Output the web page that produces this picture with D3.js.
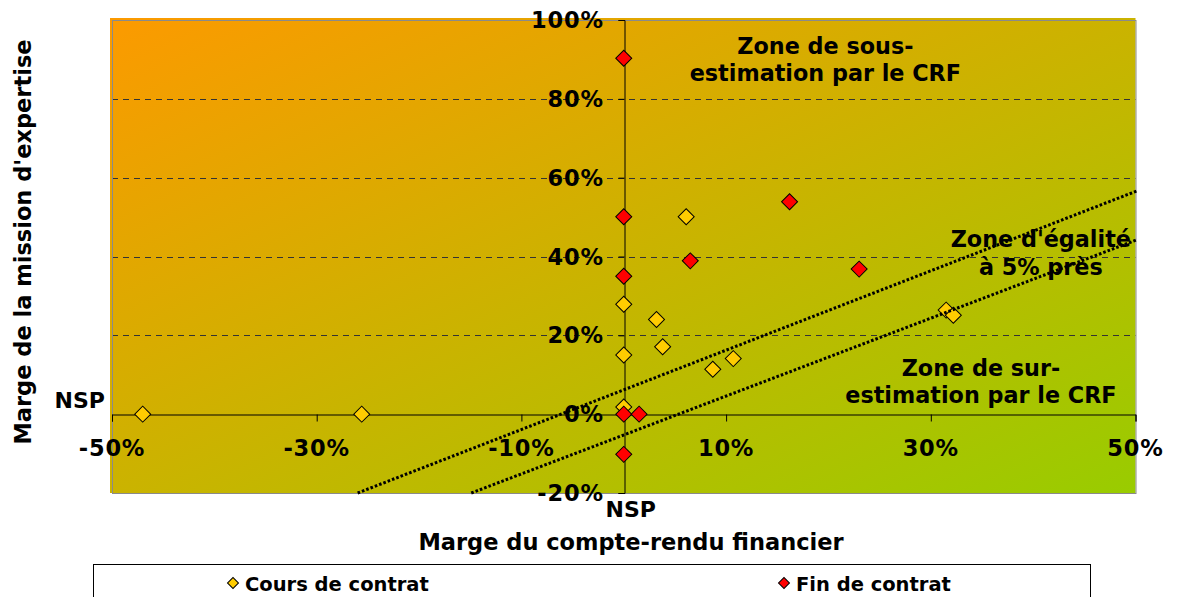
<!DOCTYPE html>
<html>
<head>
<meta charset="utf-8">
<script src="https://cdn.jsdelivr.net/npm/d3@7"></script>
<style>
  html, body { margin: 0; padding: 0; background: #fff; }
  svg { display: block; }
  text { font-family: "DejaVu Sans", Verdana, sans-serif; font-weight: bold; fill: #000; }
</style>
</head>
<body>
<svg id="chart" width="1178" height="597"></svg>
<script>
// Margins (%) — null means "NSP" (no answer), placed on the zero line.
const coursCRF     = [-47.0, -25.6, null, null, null, 3.2, 3.8, 8.7, 10.7, 6.1, 31.5, 32.2];
const coursMission = [null, null, 27.9, 15.0, 1.8, 24.0, 17.1, 11.4, 14.1, 50.1, 26.4, 25.1];

const finCRF     = [null, null, null, null, 1.5, null, 6.5, 16.2, 23.0];
const finMission = [90.3, 50.1, 35.0, null, null, -10.2, 38.9, 53.9, 36.8];

// Bounds of the "equal within 5%" band: [crf, mission] end points
const bandUpper = [[-26.0, -20], [50.1, 56.6]];
const bandLower = [[-14.9, -20], [50.1, 44.2]];

const xTicks = [-50, -30, -10, 10, 30, 50];
const yTicks = [-20, 0, 20, 40, 60, 80, 100];
const gridValues = [20, 40, 60, 80, 100];

const seriesNames = ["Cours de contrat", "Fin de contrat"];
const seriesColors = ["#FFCC00", "#FF0000"];

const zoneLabels = [
  { lines: ["Zone de sous-", "estimation par le CRF"], x: 19.7, y: 91.5 },
  { lines: ["Zone d'égalité", "à 5% près"], x: 40.75, y: 42.4 },
  { lines: ["Zone de sur-", "estimation par le CRF"], x: 34.9, y: 9.7 }
];

const svg = d3.select("#chart");

const x = d3.scaleLinear().domain([-50, 50]).range([112, 1135.5]);
const y = d3.scaleLinear().domain([-20, 100]).range([493, 20]);
const pos = v => (v == null ? 0 : v);

// Background gradient (orange -> lime, diagonal)
const defs = svg.append("defs");
const grad = defs.append("linearGradient")
  .attr("id", "bg").attr("x1", 0).attr("y1", 0).attr("x2", 1).attr("y2", 1);
grad.append("stop").attr("offset", "0%").attr("stop-color", "#FC9A00");
grad.append("stop").attr("offset", "100%").attr("stop-color", "#99CC00");

svg.append("rect")
  .attr("x", x(-50) - 2).attr("y", y(100) - 2)
  .attr("width", x(50) - x(-50) + 2).attr("height", y(-20) - y(100) + 2)
  .attr("fill", "url(#bg)");

// Dashed horizontal grid
svg.append("g").selectAll("line").data(gridValues).join("line")
  .attr("x1", x(-50)).attr("x2", x(50))
  .attr("y1", d => Math.round(y(d)) + 0.5).attr("y2", d => Math.round(y(d)) + 0.5)
  .attr("stroke", "#333").attr("stroke-width", 1)
  .attr("stroke-dasharray", "6,5");

// Plot frame
svg.append("rect")
  .attr("x", x(-50) + 0.5).attr("y", y(100) + 0.5)
  .attr("width", x(50) - x(-50)).attr("height", y(-20) - y(100))
  .attr("fill", "none").attr("stroke", "#8a8a8a").attr("stroke-width", 1);

// Horizontal axis through zero
const xAxis = d3.axisBottom(x).tickValues(xTicks).tickSize(7).tickFormat("");
svg.append("g")
  .attr("transform", `translate(0,${Math.round(y(0)) + 0.5})`)
  .call(xAxis)
  .call(g => g.select(".domain").attr("stroke", "#000"))
  .call(g => g.selectAll(".tick line").attr("stroke", "#000"));

svg.append("g").selectAll("text").data(xTicks).join("text")
  .attr("x", d => x(d)).attr("y", y(0) + 42)
  .attr("text-anchor", "middle").attr("font-size", 22.5)
  .attr("letter-spacing", 0.8)
  .text(d => d + "%");

// Vertical axis through zero
const yAxis = d3.axisLeft(y).tickValues(yTicks).tickSize(6).tickFormat("");
svg.append("g")
  .attr("transform", `translate(${Math.round(x(0)) + 0.5},0)`)
  .call(yAxis)
  .call(g => g.select(".domain").attr("stroke", "#000"))
  .call(g => g.selectAll(".tick line").attr("stroke", "#000"));

svg.append("g").selectAll("text").data(yTicks).join("text")
  .attr("x", x(0) - 20).attr("y", d => y(d))
  .attr("dy", "0.36em")
  .attr("text-anchor", "end").attr("font-size", 22.5)
  .attr("letter-spacing", 0.8)
  .text(d => d + "%");

// NSP labels
svg.append("text").attr("x", x(-50) - 7).attr("y", y(0) - 6)
  .attr("text-anchor", "end").attr("font-size", 22).text("NSP");
svg.append("text").attr("x", x(0) + 7).attr("y", y(-20) + 24)
  .attr("text-anchor", "middle").attr("font-size", 22).text("NSP");

// Zone annotations
const zones = svg.append("g");
zoneLabels.forEach(z => {
  const t = zones.append("text")
    .attr("x", x(z.x)).attr("y", y(z.y))
    .attr("text-anchor", "middle").attr("font-size", 22.3);
  z.lines.forEach((l, i) => {
    t.append("tspan").attr("x", x(z.x)).attr("dy", i === 0 ? 0 : 27.5).text(l);
  });
});

// Markers
const diamond = size => d3.symbol().type(d3.symbolSquare).size(size)();

function drawSeries(xs, ys, color) {
  svg.append("g").selectAll("path")
    .data(xs.map((v, i) => [v, ys[i]]))
    .join("path")
    .attr("d", diamond(128))
    .attr("transform", d => `translate(${x(pos(d[0]))},${y(pos(d[1]))}) rotate(45)`)
    .attr("fill", color).attr("stroke", "#000").attr("stroke-width", 1);
}
drawSeries(coursCRF, coursMission, seriesColors[0]);
drawSeries(finCRF, finMission, seriesColors[1]);

// Band boundaries (dotted)
const line = d3.line().x(d => x(d[0])).y(d => y(d[1]));
[bandUpper, bandLower].forEach(b => {
  svg.append("path").attr("d", line(b))
    .attr("fill", "none").attr("stroke", "#000")
    .attr("stroke-width", 3).attr("stroke-dasharray", "2.6,2");
});

// Axis titles
svg.append("text").attr("x", 631).attr("y", 550)
  .attr("text-anchor", "middle").attr("font-size", 22.5)
  .text("Marge du compte-rendu financier");
svg.append("text")
  .attr("transform", "translate(31,242) rotate(-90)")
  .attr("text-anchor", "middle").attr("font-size", 22.5)
  .text("Marge de la mission d'expertise");

// Legend
const legend = svg.append("g");
legend.append("rect").attr("x", 93.5).attr("y", 564.5)
  .attr("width", 997).attr("height", 50)
  .attr("fill", "#fff").attr("stroke", "#000").attr("stroke-width", 1);
const legendX = [233, 784];
seriesNames.forEach((name, i) => {
  legend.append("path").attr("d", diamond(60))
    .attr("transform", `translate(${legendX[i]},583) rotate(45)`)
    .attr("fill", seriesColors[i]).attr("stroke", "#000").attr("stroke-width", 1);
  legend.append("text").attr("x", legendX[i] + 12).attr("y", 591)
    .attr("font-size", 19.5).text(name);
});
</script>
</body>
</html>
